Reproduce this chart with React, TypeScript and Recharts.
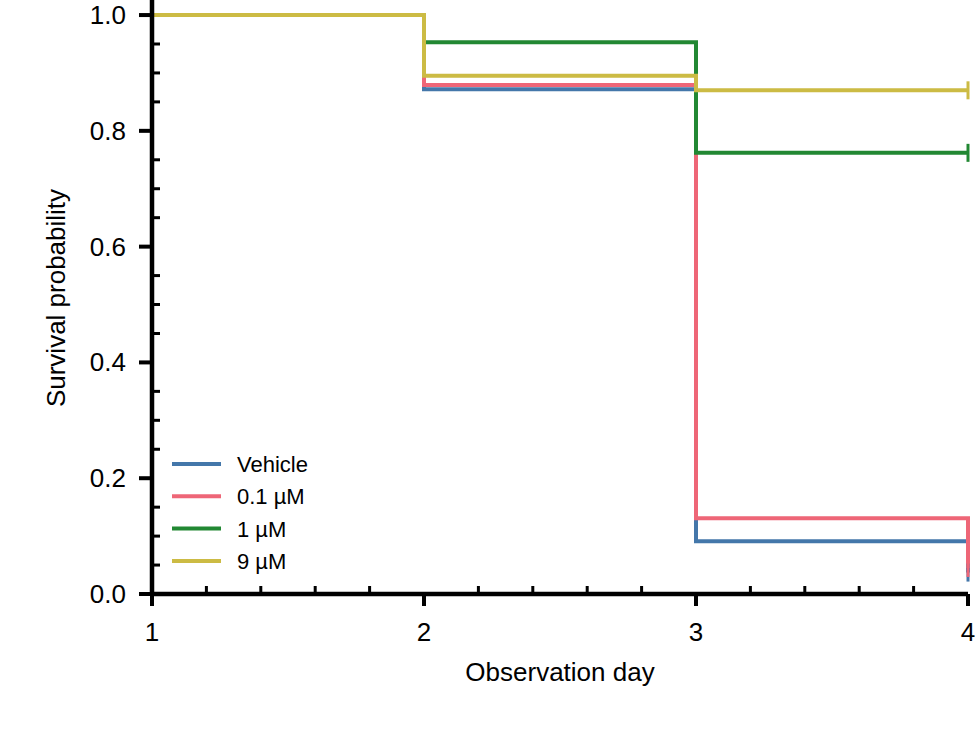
import { LineChart, Line, XAxis, YAxis, Legend, Label } from "recharts";

const days = [1, 2, 3, 4];
const vehicle = [1.0, 0.872, 0.091, 0.037];
const dose01 = [1.0, 0.879, 0.131, 0.045];
const dose1 = [1.0, 0.953, 0.762, 0.762];
const dose9 = [1.0, 0.895, 0.87, 0.87];

const seriesKeys = ["vehicle", "dose01", "dose1", "dose9"];
const seriesNames = ["Vehicle", "0.1 µM", "1 µM", "9 µM"];
const seriesColors = ["#4477AA", "#EE6677", "#228833", "#CCBB44"];

const xTicks = [1, 1.2, 1.4, 1.6, 1.8, 2, 2.2, 2.4, 2.6, 2.8, 3, 3.2, 3.4, 3.6, 3.8, 4];
const yTicks = [
  0, 0.05, 0.1, 0.15, 0.2, 0.25, 0.3, 0.35, 0.4, 0.45, 0.5,
  0.55, 0.6, 0.65, 0.7, 0.75, 0.8, 0.85, 0.9, 0.95, 1.0,
];

const FONT = '"Liberation Sans", Arial, sans-serif';

const data = days.map((d, i) => ({
  day: d,
  vehicle: vehicle[i],
  dose01: dose01[i],
  dose1: dose1[i],
  dose9: dose9[i],
}));

function XTick({ x, y, payload }: any) {
  const v = payload.value;
  const major = Math.abs(v - Math.round(v)) < 1e-6;
  if (major) {
    return (
      <g>
        <line x1={x} x2={x} y1={y} y2={y + 12} stroke="#000" strokeWidth={4} />
        <text x={x} y={y + 47} textAnchor="middle" fontSize={26} fontFamily={FONT} fill="#000">
          {Math.round(v)}
        </text>
      </g>
    );
  }
  return <line x1={x} x2={x} y1={y} y2={y - 8} stroke="#000" strokeWidth={3} />;
}

function YTick({ x, y, payload }: any) {
  const v = payload.value;
  const major = Math.abs(v * 5 - Math.round(v * 5)) < 1e-6;
  if (major) {
    return (
      <g>
        <line x1={x - 13} x2={x} y1={y} y2={y} stroke="#000" strokeWidth={4} />
        <text x={x - 26} y={y + 9} textAnchor="end" fontSize={26} fontFamily={FONT} fill="#000">
          {v.toFixed(1)}
        </text>
      </g>
    );
  }
  return <line x1={x} x2={x + 8} y1={y} y2={y} stroke="#000" strokeWidth={3} />;
}

function KMLegend() {
  return (
    <svg width={180} height={130}>
      {seriesNames.map((name, i) => (
        <g key={name}>
          <line x1={7} x2={56} y1={14 + i * 32.3} y2={14 + i * 32.3} stroke={seriesColors[i]} strokeWidth={4} />
          <text x={72} y={14 + i * 32.3 + 8} fontSize={22} fontFamily={FONT} fill="#000">
            {name}
          </text>
        </g>
      ))}
    </svg>
  );
}

// censor mark only at the last observation
const censorDot = (color: string) => (p: any) => {
  if (p.index !== days.length - 1) return <g key={`d-${p.index}`} />;
  return (
    <line
      key={`d-${p.index}`}
      x1={p.cx}
      x2={p.cx}
      y1={p.cy - 9}
      y2={p.cy + 9}
      stroke={color}
      strokeWidth={3}
    />
  );
};

export default function App() {
  return (
    <div style={{ position: "absolute", left: 0, top: 0, background: "#fff" }}>
      <LineChart
        width={975}
        height={733}
        data={data}
        margin={{ top: 0, right: 7, bottom: 0, left: 0 }}
        style={{ fontFamily: FONT }}
      >
        <XAxis
          dataKey="day"
          type="number"
          domain={[1, 4]}
          ticks={xTicks}
          interval={0}
          height={139}
          tickSize={0}
          tickMargin={0}
          tickLine={false}
          axisLine={{ stroke: "#000", strokeWidth: 4.5 }}
          tick={<XTick />}
        >
          <Label
            content={({ viewBox }: any) => (
              <text
                x={viewBox.x + viewBox.width / 2}
                y={viewBox.y + 87}
                textAnchor="middle"
                fontSize={26}
                fontFamily={FONT}
                fill="#000"
              >
                Observation day
              </text>
            )}
          />
        </XAxis>
        <YAxis
          type="number"
          domain={[0, 1.026]}
          ticks={yTicks}
          interval={0}
          width={152}
          tickSize={0}
          tickMargin={0}
          tickLine={false}
          axisLine={{ stroke: "#000", strokeWidth: 4.5 }}
          tick={<YTick />}
        >
          <Label
            content={({ viewBox }: any) => {
              const cx = viewBox.x + 65;
              const cy = viewBox.y + viewBox.height / 2 + 1;
              return (
                <text
                  x={cx}
                  y={cy}
                  transform={`rotate(-90, ${cx}, ${cy})`}
                  textAnchor="middle"
                  fontSize={26}
                  fontFamily={FONT}
                  fill="#000"
                >
                  Survival probability
                </text>
              );
            }}
          />
        </YAxis>
        <Legend
          layout="vertical"
          align="center"
          verticalAlign="middle"
          content={<KMLegend />}
          wrapperStyle={{ position: "absolute", left: 165, top: 450, width: 180 }}
        />
        {seriesKeys.map((k, i) => (
          <Line
            key={k}
            dataKey={k}
            name={seriesNames[i]}
            type="stepAfter"
            stroke={seriesColors[i]}
            strokeWidth={4}
            dot={censorDot(seriesColors[i])}
            activeDot={false}
            isAnimationActive={false}
          />
        ))}
      </LineChart>
    </div>
  );
}
